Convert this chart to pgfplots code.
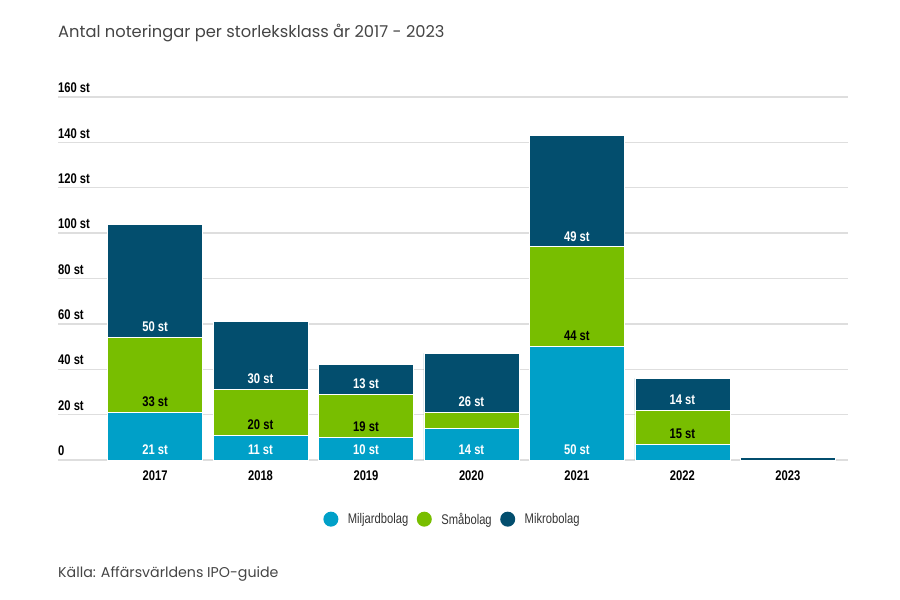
\documentclass[border=0pt]{standalone}
\usepackage{pgfplots}
\pgfplotsset{compat=1.18}
\usepackage{fontspec}
\setmainfont{Liberation Sans}
\newfontfamily\cond[FakeStretch=0.8]{Liberation Sans}
\newfontfamily\titlefont{Poppins}
\definecolor{miljard}{HTML}{00A0C8}
\definecolor{smab}{HTML}{78BE00}
\definecolor{mikro}{HTML}{034E6E}
\definecolor{gridc}{HTML}{DEDEDE}
\definecolor{titlegray}{HTML}{454545}
\definecolor{leggray}{HTML}{333333}
\begin{document}
\begin{tikzpicture}
\useasboundingbox (0,0) rectangle (900pt,600pt);
\node[anchor=west, inner sep=0pt, text=titlegray, font=\titlefont\fontsize{16.3}{16.3}\selectfont] at (58pt,567pt) {Antal noteringar per storleksklass år 2017 - 2023};
\node[anchor=west, inner sep=0pt, text=titlegray, font=\titlefont\fontsize{14.2}{14.2}\selectfont] at (58pt,26pt) {Källa: Affärsvärldens IPO-guide};
\begin{axis}[
  at={(58pt,140pt)}, anchor=south west,
  scale only axis, width=790pt, height=363pt,
  ybar stacked, bar width=95pt,
  xmin=-0.92, xmax=6.57, ymin=0, ymax=160,
  enlargelimits=false,
  axis line style={draw=none},
  major tick length=0pt,
  ymajorgrids, grid style={draw=gridc, line width=1.3pt},
  ytick={0,20,...,160},
  yticklabels={0,20 st,40 st,60 st,80 st,100 st,120 st,140 st,160 st},
  yticklabel style={anchor=south west, inner sep=0pt, yshift=4pt, font=\cond\bfseries\fontsize{14}{14}\selectfont, text=black},
  xtick={0,1,2,3,4,5,6},
  xticklabels={2017,2018,2019,2020,2021,2022,2023},
  xticklabel style={anchor=north, inner sep=0pt, yshift=-11pt, font=\cond\bfseries\fontsize{14}{14}\selectfont, text=black},
  legend style={at={(0.499,-0.163)}, anchor=center, draw=none, fill=none, legend columns=3,
    font=\cond\fontsize{14}{14}\selectfont, text=leggray,
    /tikz/every even column/.append style={column sep=6pt}},
  legend image code/.code={\path[draw=none, fill=none] (0pt,-8pt) rectangle (23pt,8pt); \fill[#1, draw=none] (8pt,0pt) circle (7.5pt);},
]
\addplot[fill=miljard, draw=white, line width=0.6pt] coordinates {(0,21)(1,11)(2,10)(3,14)(4,50)(5,7)(6,0)};
\addlegendentry{Miljardbolag}
\addplot[fill=smab, draw=white, line width=0.6pt] coordinates {(0,33)(1,20)(2,19)(3,7)(4,44)(5,15)(6,0)};
\addlegendentry{Småbolag}
\addplot[fill=mikro, draw=white, line width=0.6pt] coordinates {(0,50)(1,30)(2,13)(3,26)(4,49)(5,14)(6,1)};
\addlegendentry{Mikrobolag}
\end{axis}
\begin{axis}[
  at={(58pt,140pt)}, anchor=south west,
  scale only axis, width=790pt, height=363pt,
  xmin=-0.92, xmax=6.57, ymin=0, ymax=160,
  hide axis,
  point meta=explicit symbolic,
  every node near coord/.append style={anchor=center, yshift=10.5pt, inner sep=0pt, opacity=1, text opacity=1, font=\cond\bfseries\fontsize{14}{14}\selectfont},
]
\addplot[only marks, mark=*, mark size=0.01pt, mark options={draw opacity=0, fill opacity=0}, nodes near coords, every node near coord/.append style={text=white}]
  coordinates {(0,0)[21 st] (1,0)[11 st] (2,0)[10 st] (3,0)[14 st] (4,0)[50 st]};
\addplot[only marks, mark=*, mark size=0.01pt, mark options={draw opacity=0, fill opacity=0}, nodes near coords, every node near coord/.append style={text=black}]
  coordinates {(0,21)[33 st] (1,11)[20 st] (2,10)[19 st] (4,50)[44 st] (5,7)[15 st]};
\addplot[only marks, mark=*, mark size=0.01pt, mark options={draw opacity=0, fill opacity=0}, nodes near coords, every node near coord/.append style={text=white}]
  coordinates {(0,54)[50 st] (1,31)[30 st] (2,29)[13 st] (3,21)[26 st] (4,94)[49 st] (5,22)[14 st]};
\end{axis}
\end{tikzpicture}
\end{document}
